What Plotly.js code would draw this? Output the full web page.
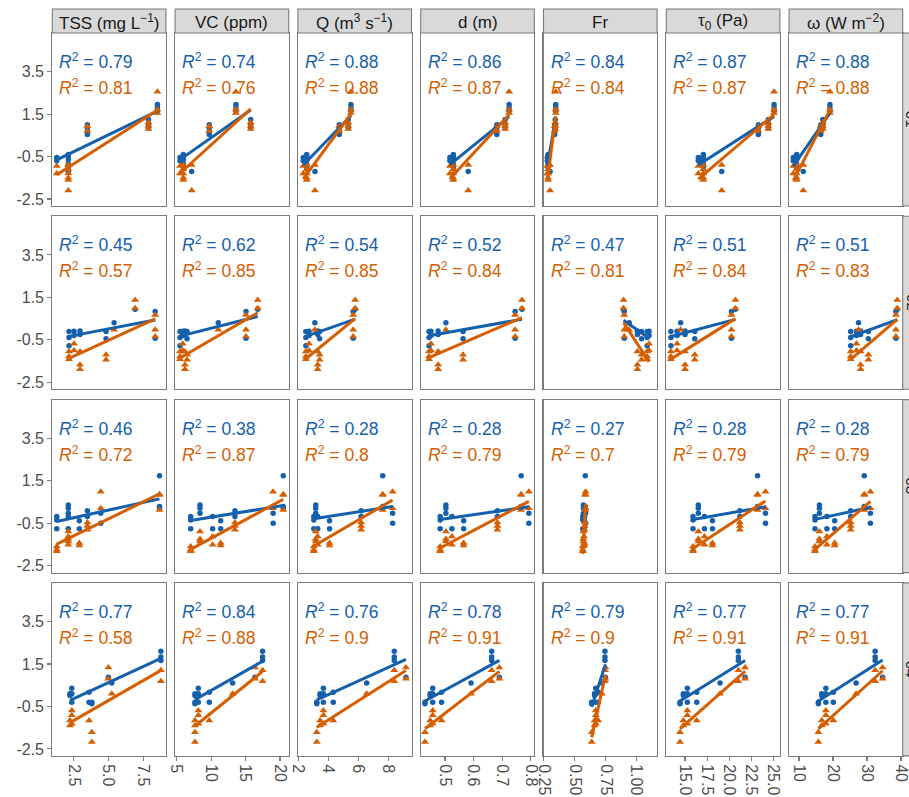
<!DOCTYPE html>
<html>
<head>
<meta charset="utf-8">
<script src="https://cdn.plot.ly/plotly-3.0.1.min.js"></script>
<style>
  html, body { margin: 0; padding: 0; background: #ffffff; }
  #chart { width: 909px; height: 797px; }
</style>
</head>
<body>
<div id="chart"></div>
<script>
// Facet rows (sites) and facet columns (predictors)
const sites = ["01", "02", "03", "04"];
const predictorLabels = [
  "TSS (mg L<sup>−1</sup>)",
  "VC (ppm)",
  "Q (m<sup>3</sup> s<sup>−1</sup>)",
  "d (m)",
  "Fr",
  "τ<sub>0</sub> (Pa)",
  "ω (W m<sup>−2</sup>)"
];

// Predictor value of each sampling event, one list per site
const tss = [
  [1.28, 2.11, 2.11, 3.48, 7.87, 8.51],
  [2.16, 2.52, 2.95, 4.82, 5.4, 6.91, 8.35],
  [1.28, 2.11, 2.11, 2.9, 3.48, 4.44, 8.66],
  [3.8, 2.23, 2.36, 3.6, 5.23, 8.76, 4.99]
];
const vc = [
  [5.48, 5.96, 7.18, 9.73, 15.74, 13.6],
  [5.48, 5.87, 6.2, 6.5, 11.04, 16.76, 15.06],
  [7.03, 8.38, 10.22, 11.39, 13.46, 19.0, 20.47],
  [7.66, 7.66, 8.14, 9.73, 13.12, 17.47, 16.36]
];
const discharge = [
  [2.33, 2.56, 3.11, 4.73, 5.33, 5.51],
  [2.5, 2.71, 3.29, 3.42, 3.1, 5.79, 5.66],
  [3.03, 3.16, 3.29, 4.08, 6.19, 8.29, 7.63],
  [3.23, 3.45, 3.67, 4.33, 6.56, 8.4, 9.18]
];
const depth = [
  [0.517, 0.529, 0.581, 0.681, 0.71, 0.724],
  [0.444, 0.451, 0.476, 0.563, 0.503, 0.769, 0.745],
  [0.483, 0.503, 0.524, 0.565, 0.683, 0.793, 0.766],
  [0.43, 0.448, 0.457, 0.488, 0.591, 0.663, 0.69]
];
const froude = [
  [0.279, 0.285, 0.301, 0.338, 0.343, 0.347],
  [1.085, 1.10, 1.006, 1.04, 0.94, 0.894, 0.90],
  [0.565, 0.57, 0.575, 0.578, 0.58, 0.588, 0.585],
  [0.637, 0.66, 0.67, 0.69, 0.72, 0.744, 0.748]
];
const shear = [
  [16.5, 17.07, 19.15, 23.29, 24.42, 25.07],
  [13.4, 14.1, 15.0, 16.1, 14.5, 20.7, 20.25],
  [15.9, 16.5, 17.2, 18.1, 21.2, 24.1, 23.2],
  [14.43, 14.81, 15.26, 16.32, 18.96, 21.03, 21.79]
];
const power = [
  [8.32, 9.32, 11.26, 16.4, 17.0, 19.1],
  [25.2, 26.9, 28.1, 30.4, 27.5, 38.9, 38.5],
  [14.7, 16.0, 18.2, 20.5, 25.2, 31.0, 29.2],
  [15.7, 16.7, 17.9, 20.1, 26.8, 32.4, 34.6]
];

// Standardised responses measured at each event (blue circles / orange triangles)
const responseBlue = [
  [[-0.55, -0.7], [-0.4, -0.5, -0.65, -0.85, -1.0], [-1.2], [1.0, 0.86, 0.7, 0.54], [1.25, 1.0, 0.86], [1.95, 1.8, 1.64]],
  [[-0.11, -0.39, -0.78], [-0.1, -0.3], [-0.08, -0.25], [-0.11, -0.45], [0.31], [0.94], [0.83, -0.42]],
  [[-0.19, -0.35, -0.77], [0.36, 0.2, -0.03], [-0.19, -0.77], [-0.39, -0.77], [0.08, -0.19], [-0.03, -0.5], [1.73, 0.28, 0.2]],
  [[-0.3, -0.37], [0.02, 0.1], [0.36, 0.1, -0.3], [0.17, -0.3], [0.6], [2.1, 1.83, 1.67], [0.88]]
];
const responseOrange = [
  [[-0.95, -1.3], [-0.9, -1.1, -1.3, -1.5, -1.6], [-0.9, -2.1], [0.93, 0.7], [1.1, 0.95, 0.8], [2.55, 1.72, 1.55]],
  [[-1.05, -1.28, -1.41], [-0.69, -1.0], [-1.05, -1.67, -1.88], [-1.2, -1.44], [-0.03], [1.38, 0.99], [0.67, -0.03, -0.34]],
  [[-1.6, -1.75, -1.83], [-0.89, -1.25, -1.36], [-1.13, -1.52], [-1.44, -1.55], [-0.47, -0.63, -0.81], [0.98, 0.2], [0.86, 0.83, 0.12]],
  [[-1.71, -2.18], [-1.16, -1.4], [-0.69, -0.92, -1.32], [-1.16], [0.1], [1.2, 0.69], [1.33, 0.81]]
];

// Coefficients of determination printed in each panel
const r2Blue = [
  [0.79, 0.74, 0.88, 0.86, 0.84, 0.87, 0.88],
  [0.45, 0.62, 0.54, 0.52, 0.47, 0.51, 0.51],
  [0.46, 0.38, 0.28, 0.28, 0.27, 0.28, 0.28],
  [0.77, 0.84, 0.76, 0.78, 0.79, 0.77, 0.77]
];
const r2Orange = [
  [0.81, 0.76, 0.88, 0.87, 0.84, 0.87, 0.88],
  [0.57, 0.85, 0.85, 0.84, 0.81, 0.84, 0.83],
  [0.72, 0.87, 0.8, 0.79, 0.7, 0.79, 0.79],
  [0.58, 0.88, 0.9, 0.91, 0.9, 0.91, 0.91]
];

// Axis ticks
const xTickVals = [[2.5, 5, 7.5], [5, 10, 15, 20], [2, 4, 6, 8], [0.5, 0.6, 0.7, 0.8],
                   [0.25, 0.5, 0.75, 1], [15, 17.5, 20, 22.5, 25], [10, 20, 30, 40]];
const xTickText = [["2.5", "5.0", "7.5"], ["5", "10", "15", "20"], ["2", "4", "6", "8"],
                   ["0.5", "0.6", "0.7", "0.8"], ["0.25", "0.50", "0.75", "1.00"],
                   ["15.0", "17.5", "20.0", "22.5", "25.0"], ["10", "20", "30", "40"]];
const yTickVals = [-2.5, -0.5, 1.5, 3.5];
const yTickText = ["-2.5", "-0.5", "1.5", "3.5"];

// ---- styling / geometry ----
const W = 909, H = 797;
const FONT = "Liberation Sans, Arial, Helvetica, sans-serif";
const BLUE = "#1560ac";
const ORANGE = "#d55e00";
const BORDER = "#7b7b7b";
const STRIP_FILL = "#d9d9d9";
const colLeft0 = 52.3, colPitch = 122.8, panelW = 113.6;
const rowTop0 = 33, rowPitch = 183.3, panelH = 173;
const stripTop = 9;
const xRanges = [[0.96, 9.12], [4.77, 21.26], [1.97, 9.55], [0.415, 0.812],
                 [0.248, 1.165], [12.88, 25.73], [7.09, 40.5]];
const yRange = [-2.83, 5.32];

const predictors = [tss, vc, discharge, depth, froude, shear, power];

function expand(xs, groups) {
  const px = [], py = [];
  groups.forEach((g, i) => g.forEach(v => { px.push(xs[i]); py.push(v); }));
  return { x: px, y: py };
}

// ordinary least squares line over the observed x span
function lmLine(x, y) {
  const n = x.length;
  const mx = x.reduce((a, b) => a + b, 0) / n;
  const my = y.reduce((a, b) => a + b, 0) / n;
  let sxx = 0, sxy = 0;
  for (let i = 0; i < n; i++) { sxx += (x[i] - mx) ** 2; sxy += (x[i] - mx) * (y[i] - my); }
  const b = sxy / sxx, a = my - b * mx;
  const x0 = Math.min(...x), x1 = Math.max(...x);
  return { x: [x0, x1], y: [a + b * x0, a + b * x1] };
}

const px2fx = v => v / W;
const py2fy = v => 1 - v / H;

const traces = [];
const layout = {
  width: W, height: H,
  margin: { l: 0, r: 0, t: 0, b: 0 },
  showlegend: false,
  paper_bgcolor: "#ffffff",
  plot_bgcolor: "#ffffff",
  font: { family: FONT, size: 16, color: "#4d4d4d" },
  annotations: [],
  shapes: []
};

const nRows = sites.length, nCols = predictorLabels.length;

for (let r = 0; r < nRows; r++) {
  const top = rowTop0 + r * rowPitch, bottom = top + panelH;
  for (let c = 0; c < nCols; c++) {
    const k = r * nCols + c + 1;
    const left = colLeft0 + c * colPitch, right = left + panelW;
    const xa = "x" + k, ya = "y" + k;
    const isBottom = r === nRows - 1, isLeft = c === 0;

    layout["xaxis" + k] = {
      domain: [px2fx(left), px2fx(right)],
      anchor: ya,
      range: xRanges[c],
      showgrid: false, zeroline: false,
      showline: true, mirror: true, linecolor: BORDER, linewidth: 1.1,
      ticks: isBottom ? "outside" : "",
      ticklen: 4, tickwidth: 1.1, tickcolor: BORDER,
      tickmode: "array", tickvals: xTickVals[c], ticktext: xTickText[c],
      showticklabels: isBottom,
      ticklabeloverflow: "allow",
      tickangle: 90,
      tickfont: { family: FONT, size: 16, color: "#4d4d4d" }
    };
    layout["yaxis" + k] = {
      domain: [py2fy(bottom), py2fy(top)],
      anchor: xa,
      range: yRange,
      showgrid: false, zeroline: false,
      showline: true, mirror: true, linecolor: BORDER, linewidth: 1.1,
      ticks: isLeft ? "outside" : "",
      ticklen: 4, tickwidth: 1.1, tickcolor: BORDER,
      tickmode: "array", tickvals: yTickVals, ticktext: yTickText,
      showticklabels: isLeft,
      tickfont: { family: FONT, size: 16, color: "#4d4d4d" }
    };

    const xs = predictors[c][r];
    const blue = expand(xs, responseBlue[r]);
    const orange = expand(xs, responseOrange[r]);

    traces.push({
      type: "scatter", mode: "markers", xaxis: xa, yaxis: ya,
      x: blue.x, y: blue.y,
      marker: { symbol: "circle", size: 5.5, color: BLUE, line: { width: 0 } },
      hoverinfo: "skip"
    });
    traces.push({
      type: "scatter", mode: "markers", xaxis: xa, yaxis: ya,
      x: orange.x, y: orange.y,
      marker: { symbol: "triangle-up", size: 7, color: ORANGE, line: { width: 0 } },
      hoverinfo: "skip"
    });
    const lb = lmLine(blue.x, blue.y);
    const lo = lmLine(orange.x, orange.y);
    traces.push({
      type: "scatter", mode: "lines", xaxis: xa, yaxis: ya,
      x: lb.x, y: lb.y, line: { color: BLUE, width: 3 }, hoverinfo: "skip"
    });
    traces.push({
      type: "scatter", mode: "lines", xaxis: xa, yaxis: ya,
      x: lo.x, y: lo.y, line: { color: ORANGE, width: 3 }, hoverinfo: "skip"
    });

    // R² labels
    layout.annotations.push({
      xref: "paper", yref: "paper",
      x: px2fx(left + 5), y: py2fy(top + 28),
      xanchor: "left", yanchor: "middle", showarrow: false,
      text: "<i>R</i><sup>2</sup> = " + String(r2Blue[r][c]),
      font: { family: FONT, size: 17.5, color: BLUE }
    });
    layout.annotations.push({
      xref: "paper", yref: "paper",
      x: px2fx(left + 5), y: py2fy(top + 54),
      xanchor: "left", yanchor: "middle", showarrow: false,
      text: "<i>R</i><sup>2</sup> = " + String(r2Orange[r][c]),
      font: { family: FONT, size: 17.5, color: ORANGE }
    });

    // column strips along the top
    if (r === 0) {
      layout.shapes.push({
        type: "rect", xref: "paper", yref: "paper",
        x0: px2fx(left), x1: px2fx(right), y0: py2fy(top), y1: py2fy(stripTop),
        fillcolor: STRIP_FILL, line: { color: BORDER, width: 1.1 }
      });
      layout.annotations.push({
        xref: "paper", yref: "paper",
        x: px2fx((left + right) / 2), y: py2fy((top + stripTop) / 2 + 1),
        xanchor: "center", yanchor: "middle", showarrow: false,
        text: predictorLabels[c],
        font: { family: FONT, size: 17, color: "#1a1a1a" }
      });
    }
  }

  // row strip on the right edge
  const stripLeft = colLeft0 + (nCols - 1) * colPitch + panelW;
  layout.shapes.push({
    type: "rect", xref: "paper", yref: "paper",
    x0: px2fx(stripLeft), x1: px2fx(stripLeft + 24), y0: py2fy(bottom), y1: py2fy(top),
    fillcolor: STRIP_FILL, line: { color: BORDER, width: 1.1 }
  });
  layout.annotations.push({
    xref: "paper", yref: "paper",
    x: px2fx(stripLeft + 9), y: py2fy((top + bottom) / 2),
    xanchor: "center", yanchor: "middle", showarrow: false,
    textangle: 90,
    text: sites[r],
    font: { family: FONT, size: 15, color: "#1a1a1a" }
  });
}

Plotly.newPlot("chart", traces, layout, { displayModeBar: false, staticPlot: true, responsive: false });
</script>
</body>
</html>
